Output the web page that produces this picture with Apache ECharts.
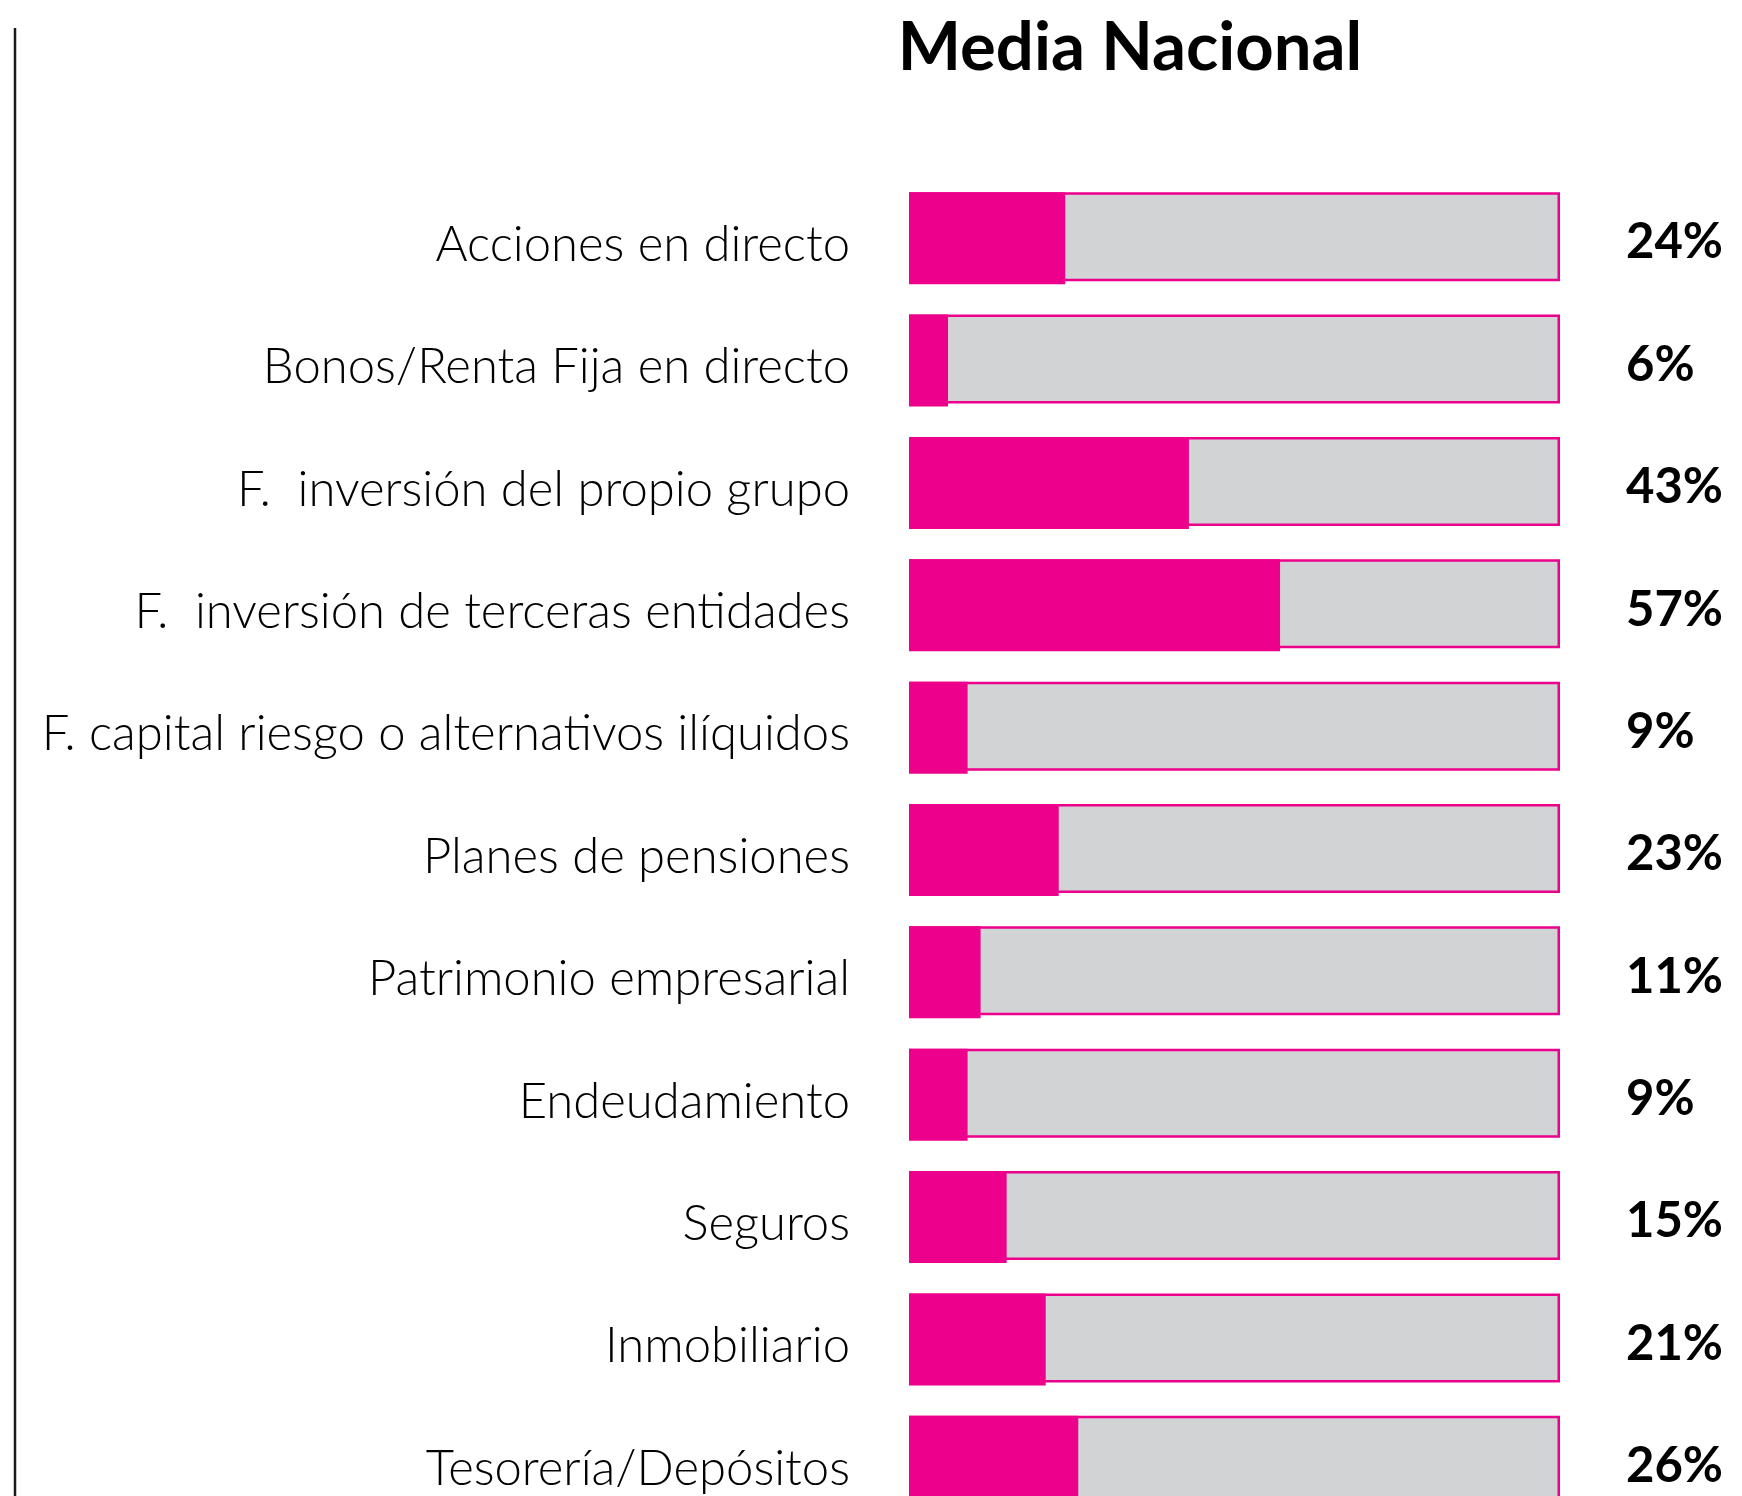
<!DOCTYPE html>
<html>
<head>
<meta charset="utf-8">
<script src="https://cdn.jsdelivr.net/npm/echarts@6/dist/echarts.min.js"></script>
<style>
  html, body { margin: 0; padding: 0; background: #fff; overflow: hidden; }
  /* más alto que la ventana: la última barra queda cortada como en el original */
  #chart { width: 1742px; height: 1530px; }
</style>
</head>
<body>
<div id="chart"></div>
<script>
// datos
const categories = [
  'Acciones en directo',
  'Bonos/Renta Fija en directo',
  'F.  inversión del propio grupo',
  'F.  inversión de terceras entidades',
  'F. capital riesgo o alternativos ilíquidos',
  'Planes de pensiones',
  'Patrimonio empresarial',
  'Endeudamiento',
  'Seguros',
  'Inmobiliario',
  'Tesorería/Depósitos'
]
const values = [24, 6, 43, 57, 9, 23, 11, 9, 15, 21, 26]
const totals = categories.map(() => 100)

const PINK = '#EC008C'
const GREY = '#D1D3D4'

const chart = echarts.init(document.getElementById('chart'))

chart.setOption({
  animation: false,
  title: {
    text: 'Media Nacional',
    left: 1125,
    textAlign: 'center',
    top: 10,
    textStyle: {
      fontFamily: 'Lato',
      fontWeight: 'bold',
      fontSize: 67,
      color: '#000'
    }
  },
  grid: {
    left: 909,
    right: 182,
    top: 177,
    bottom: 7
  },
  xAxis: {
    type: 'value',
    min: 0,
    max: 100,
    show: false
  },
  yAxis: {
    type: 'category',
    inverse: true,
    data: categories,
    axisLine: { show: false },
    axisTick: { show: false },
    axisLabel: { show: false }
  },
  series: [
    {
      type: 'bar',
      data: totals,
      barWidth: 89,
      barGap: '-100%',
      silent: true,
      itemStyle: {
        color: GREY,
        borderColor: PINK,
        borderWidth: 2.5
      },
      label: {
        show: true,
        position: 'right',
        distance: 66,
        offset: [0, 6],
        formatter: p => values[p.dataIndex] + '%',
        fontFamily: 'Lato',
        fontWeight: 'bold',
        fontSize: 49,
        color: '#000'
      }
    },
    {
      type: 'bar',
      data: values,
      barWidth: 92,
      z: 3,
      itemStyle: { color: PINK },
      label: {
        show: true,
        position: 'left',
        distance: 59,
        offset: [0, 7],
        formatter: p => categories[p.dataIndex],
        fontFamily: 'Lato',
        fontWeight: 300,
        fontSize: 49,
        color: '#000'
      }
    }
  ],
  graphic: [
    {
      type: 'line',
      shape: { x1: 15, y1: 28, x2: 15, y2: 1530 },
      style: { stroke: '#1a1a1a', lineWidth: 2.5 }
    }
  ]
})
</script>
</body>
</html>
